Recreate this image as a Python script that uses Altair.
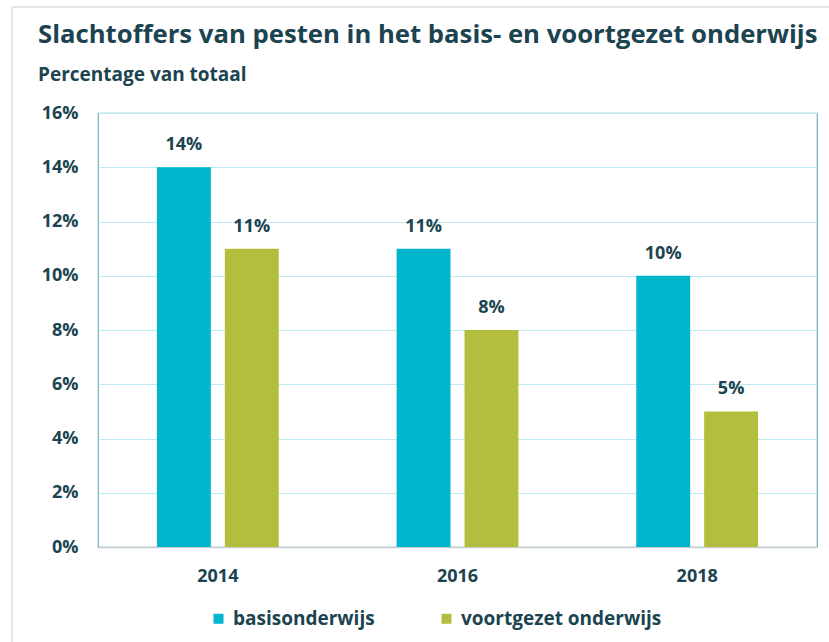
import altair as alt
import pandas as pd

years = ["2014", "2016", "2018"]
series = ["basisonderwijs", "voortgezet onderwijs"]
basis = [14, 11, 10]
voortgezet = [11, 8, 5]
colors = ["#00B5CC", "#B3BE3E"]

rows = []
for i, y in enumerate(years):
    rows.append({"jaar": y, "type": series[0], "waarde": basis[i]})
    rows.append({"jaar": y, "type": series[1], "waarde": voortgezet[i]})
df = pd.DataFrame(rows)

TXT = "#1B4450"
FONT = "Open Sans"

base = alt.Chart(df).encode(
    x=alt.X("jaar:N", title=None,
            scale=alt.Scale(paddingInner=0, paddingOuter=0),
            axis=alt.Axis(labelAngle=0, labelFontSize=18, labelFontWeight="bold",
                          labelColor=TXT, labelFont=FONT, labelPadding=20,
                          ticks=False, domain=True, domainColor="#C8CFD2", domainWidth=1.5)),
    xOffset=alt.XOffset("type:N", sort=series,
                        scale=alt.Scale(paddingInner=0.206, paddingOuter=0.868)),
)

bars = base.mark_bar().encode(
    y=alt.Y("waarde:Q", title=None,
            scale=alt.Scale(domain=[0, 16]),
            axis=alt.Axis(values=list(range(0, 17, 2)), labelExpr="datum.value + '%'",
                          labelFontSize=18, labelFontWeight="bold", labelColor=TXT,
                          labelFont=FONT, labelPadding=20, ticks=False, domain=False,
                          grid=True, gridColor="#BDEBF2", gridWidth=1)),
    color=alt.Color("type:N", sort=series, scale=alt.Scale(domain=series, range=colors),
                    legend=alt.Legend(title=None, orient="none", legendX=111, legendY=496,
                                      direction="horizontal", symbolType="square",
                                      symbolSize=100, labelFontSize=19, labelFont=FONT,
                                      labelFontWeight="bold", labelColor=TXT, labelLimit=400,
                                      columnPadding=62, labelOffset=5)),
)

labels = base.mark_text(dy=-22, fontSize=18, fontWeight="bold", color=TXT, font=FONT).encode(
    y=alt.Y("waarde:Q"),
).transform_calculate(lbl="datum.waarde + '%'").encode(text="lbl:N")

card_left = alt.Chart(pd.DataFrame({"a": [0]})).mark_rule(color="#DDDDDD", strokeWidth=1.5).encode(
    x=alt.value(-86), y=alt.value(-106), y2=alt.value(529))
card_top = alt.Chart(pd.DataFrame({"a": [0]})).mark_rule(color="#DDDDDD", strokeWidth=1.5).encode(
    x=alt.value(-86), x2=alt.value(731), y=alt.value(-106))

chart = alt.layer(card_left, card_top, bars, labels).properties(
    width=719, height=434,
    autosize=alt.AutoSizeParams(type="none"),
    padding={"left": 98, "top": 113, "right": 12, "bottom": 95},
    title=alt.TitleParams(
        "Slachtoffers van pesten in het basis- en voortgezet onderwijs",
        subtitle="Percentage van totaal",
        anchor="start", frame="group", dx=-60, dy=80, offset=0,
        font=FONT, fontSize=25.7, fontWeight="bold", color=TXT,
        subtitleFont=FONT, subtitleFontSize=19, subtitleFontWeight="bold",
        subtitleColor=TXT, subtitlePadding=18),
    background="white",
).configure_view(stroke="#6FB3BE", strokeWidth=1.2)

chart.save("out.html", embed_options={"renderer": "svg", "actions": False})
